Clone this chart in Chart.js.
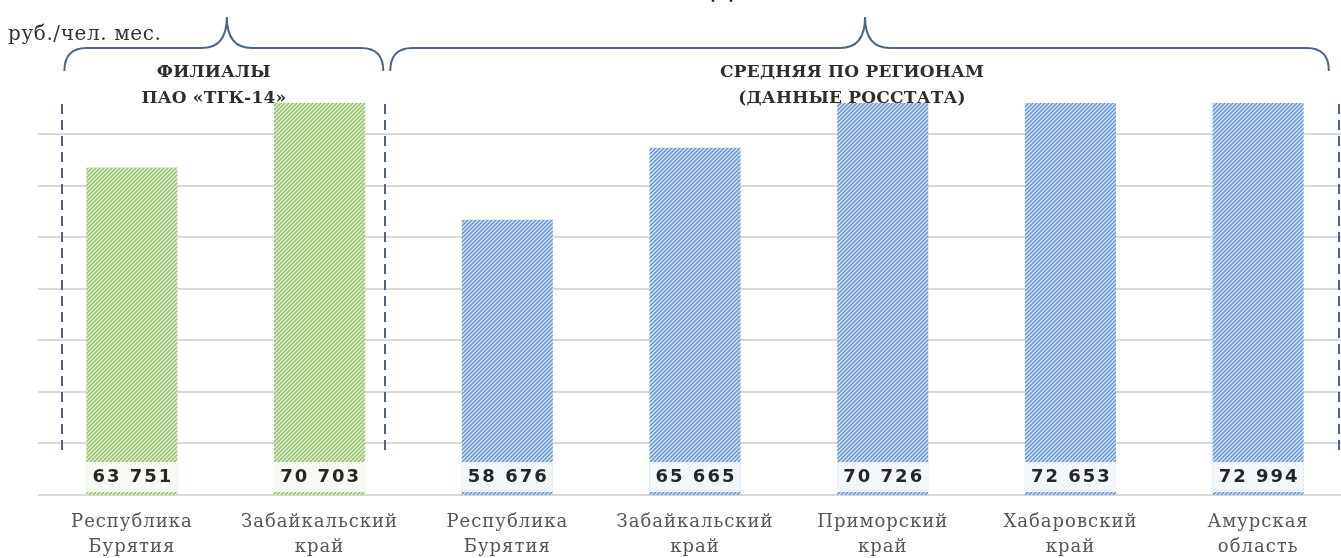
<!DOCTYPE html>
<html>
<head>
<meta charset="utf-8">
<script src="https://cdn.jsdelivr.net/npm/chart.js@4.4.1/dist/chart.umd.min.js"></script>
<style>
  html, body { margin: 0; padding: 0; background: #fff; overflow: hidden; }
</style>
</head>
<body>
<canvas id="chart" width="1360" height="558"></canvas>
<script>
// data
const labels = [
    ["Республика", "Бурятия"],
    ["Забайкальский", "край"],
    ["Республика", "Бурятия"],
    ["Забайкальский", "край"],
    ["Приморский", "край"],
    ["Хабаровский", "край"],
    ["Амурская", "область"]
];
const values = [63751, 70703, 58676, 65665, 70726, 72653, 72994];
const groupOf = [0, 0, 1, 1, 1, 1, 1];
const groupTitles = [
    ["ФИЛИАЛЫ", "ПАО «ТГК-14»"],
    ["СРЕДНЯЯ ПО РЕГИОНАМ", "(ДАННЫЕ РОССТАТА)"]
];
// dashed separators, in category units
const separators = [-0.37, 1.35, 6.43];
const gridValues = [32000, 37000, 42000, 47000, 52000, 57000, 62000, 67000];
const yMin = 32000;
const yMax = 70000;
const unitLabel = "руб./чел. мес.";

function makeHatch(bg, fg) {
    const c = document.createElement("canvas");
    c.width = c.height = 4;
    const g = c.getContext("2d");
    g.fillStyle = bg;
    g.fillRect(0, 0, 4, 4);
    g.strokeStyle = fg;
    g.lineWidth = 1.5;
    g.beginPath();
    g.moveTo(-1, 5); g.lineTo(5, -1);
    g.moveTo(-1, 1); g.lineTo(1, -1);
    g.moveTo(3, 5); g.lineTo(5, 3);
    g.stroke();
    return g.createPattern(c, "repeat");
}

const ctx = document.getElementById("chart").getContext("2d");
const hatches = [makeHatch("#e8f3dc", "#93c066"), makeHatch("#dae8f7", "#6594d0")];

function fmt(v) {
    return String(v).replace(/\B(?=(\d{3})+(?!\d))/g, " ");
}

function brace(c, x1, x2, yEnd, yLine, yPeak, mid) {
    const r = 22, w = 25;
    c.beginPath();
    c.moveTo(x1, yEnd);
    c.quadraticCurveTo(x1, yLine, x1 + r, yLine);
    c.lineTo(mid - w, yLine);
    c.quadraticCurveTo(mid, yLine, mid, yPeak);
    c.quadraticCurveTo(mid, yLine, mid + w, yLine);
    c.lineTo(x2 - r, yLine);
    c.quadraticCurveTo(x2, yLine, x2, yEnd);
    c.stroke();
}

const decor = {
    id: "decor",
    beforeDraw(chart) {
        chart.ctx.letterSpacing = "1px";
    },
    afterDatasetsDraw(chart) {
        const c = chart.ctx;
        const area = chart.chartArea;
        const meta = chart.getDatasetMeta(0);
        c.save();
        // value boxes
        meta.data.forEach((bar, i) => {
            const w = bar.width;
            c.fillStyle = "rgba(255,255,255,0.88)";
            c.fillRect(bar.x - w / 2, area.bottom - 33, w, 30);
            c.fillStyle = "#262626";
            c.font = "bold 18px 'DejaVu Sans'";
            c.letterSpacing = "2px";
            c.textAlign = "center";
            c.textBaseline = "middle";
            c.fillText(fmt(values[i]), bar.x + 1, area.bottom - 18);
        });
        c.restore();
    },
    afterDraw(chart) {
        const c = chart.ctx;
        const x = chart.scales.x;
        const area = chart.chartArea;
        c.save();
        // dashed separators
        c.strokeStyle = "#4d6688";
        c.lineWidth = 2;
        c.setLineDash([10, 6]);
        separators.forEach(s => {
            const px = Math.round(x.getPixelForValue(s));
            c.beginPath();
            c.moveTo(px, area.top + 1);
            c.lineTo(px, area.bottom - 43);
            c.stroke();
        });
        c.setLineDash([]);
        // braces
        c.strokeStyle = "#4d6688";
        c.lineWidth = 2;
        const sepPx = separators.map(s => x.getPixelForValue(s));
        const insets = [[2, -2], [5, -10]];
        groupTitles.forEach((t, g) => {
            const x1 = sepPx[g] + insets[g][0];
            const x2 = sepPx[g + 1] + insets[g][1];
            const mid = (sepPx[g] + sepPx[g + 1]) / 2;
            brace(c, x1, x2, 71, 48, 17, mid + 3);
            c.fillStyle = "#2e2e2e";
            c.font = "bold 17px 'DejaVu Serif'";
            c.letterSpacing = "0.2px";
            c.textAlign = "center";
            c.textBaseline = "middle";
            c.fillText(t[0], mid - 10, 73);
            c.fillText(t[1], mid - 10, 99);
        });
        // unit label
        c.fillStyle = "#333";
        c.font = "20px 'DejaVu Serif'";
        c.letterSpacing = "0.6px";
        c.textAlign = "left";
        c.textBaseline = "middle";
        c.fillText(unitLabel, 8, 35);
        // cut-off heading letter at the very top
        c.fillStyle = "#222";
        c.font = "30px 'DejaVu Sans'";
        c.letterSpacing = "0px";
        c.textAlign = "center";
        c.textBaseline = "alphabetic";
        c.fillText("Д", 722, -3);
        c.restore();
    }
};

new Chart(ctx, {
    type: "bar",
    data: {
        labels: labels,
        datasets: [{
            data: values,
            backgroundColor: groupOf.map(g => hatches[g]),
            borderWidth: 0,
            barPercentage: 0.97,
            categoryPercentage: 0.5
        }]
    },
    options: {
        responsive: false,
        animation: false,
        layout: { padding: { top: 103, left: 38, right: 8, bottom: 0 } },
        plugins: {
            legend: { display: false },
            tooltip: { enabled: false }
        },
        scales: {
            x: {
                grid: { display: false },
                border: { display: false },
                ticks: {
                    color: "#555",
                    font: { family: "DejaVu Serif", size: 18, lineHeight: 1.38 },
                    padding: 7,
                    maxRotation: 0,
                    autoSkip: false
                },
                afterFit: s => { s.height = 63; }
            },
            y: {
                min: yMin,
                max: yMax,
                grid: { color: "#d9d9d9", lineWidth: 2, drawTicks: false },
                border: { display: false },
                ticks: { display: false },
                afterBuildTicks: s => { s.ticks = gridValues.map(v => ({ value: v })); }
            }
        }
    },
    plugins: [decor]
});
</script>
</body>
</html>
